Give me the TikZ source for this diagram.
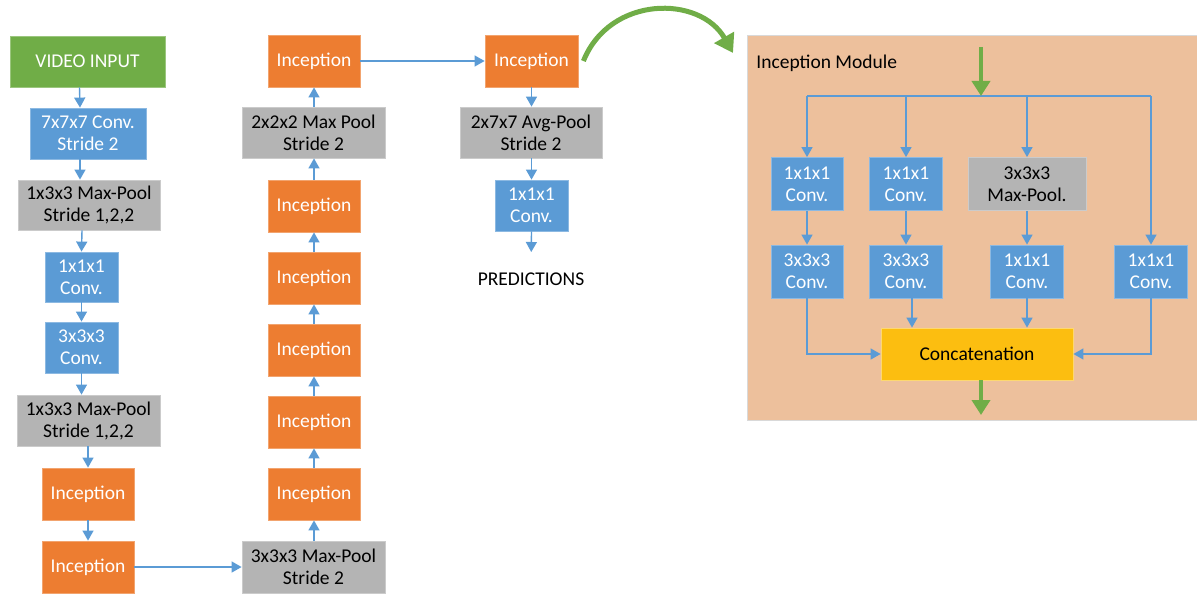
\documentclass[tikz,border=0pt]{standalone}
\usepackage{fontspec}
\setmainfont{Carlito}
\usetikzlibrary{arrows.meta,calc}

\definecolor{cblue}{RGB}{91,155,213}
\definecolor{corange}{RGB}{237,125,49}
\definecolor{cgray}{RGB}{180,180,180}
\definecolor{cgreen}{RGB}{112,173,71}
\definecolor{cpeach}{RGB}{237,192,156}
\definecolor{cyellow}{RGB}{252,190,16}

\tikzset{
  box/.style={rectangle, inner sep=0pt, align=center,
    font=\fontsize{19.5}{22}\selectfont, line width=0.8pt},
  convbox/.style={box, fill=cblue, draw=cblue!70!white, text=white},
  incbox/.style={box, fill=corange, draw=corange!70!white, text=white,
    minimum width=92pt, minimum height=52pt},
  poolbox/.style={box, fill=cgray, draw=cgray!70!white, text=black},
  inbox/.style={box, fill=cgreen, draw=cgreen!70!white, text=white},
  catbox/.style={box, fill=cyellow, draw=cyellow!60!white, text=black},
  arr/.style={draw=cblue, line width=1.4pt, -{Triangle[width=11pt,length=10pt]}},
  link/.style={draw=cblue, line width=1.4pt},
  garr/.style={draw=cgreen, line width=4pt, -{Triangle[width=18pt,length=15pt]}},
}

\begin{document}
\begin{tikzpicture}[x=1pt, y=-1pt]
\useasboundingbox (0,0) rectangle (1197,594);

% --- first column ---
\node[inbox, minimum width=155pt, minimum height=51pt] (vin) at (87.5,61.5) {VIDEO INPUT};
\node[convbox, minimum width=116pt, minimum height=51pt] (c7) at (88,133.5) {7x7x7 Conv.\\Stride 2};
\node[poolbox, minimum width=142pt, minimum height=50pt] (mp1) at (89,205) {1x3x3 Max-Pool\\Stride 1,2,2};
\node[convbox, minimum width=73pt, minimum height=50pt] (c1) at (81.5,277) {1x1x1\\Conv.};
\node[convbox, minimum width=73pt, minimum height=51pt] (c3) at (81.5,347.5) {3x3x3\\Conv.};
\node[poolbox, minimum width=143pt, minimum height=51pt] (mp2) at (88.5,420.5) {1x3x3 Max-Pool\\Stride 1,2,2};
\node[incbox] (i1) at (88,494) {Inception};
\node[incbox] (i2) at (88,567) {Inception};

% --- second column (bottom to top) ---
\node[poolbox, minimum width=143pt, minimum height=52pt] (mp3) at (313.5,567) {3x3x3 Max-Pool\\Stride 2};
\node[incbox] (i3) at (314,494) {Inception};
\node[incbox] (i4) at (314,422) {Inception};
\node[incbox] (i5) at (314,350) {Inception};
\node[incbox] (i6) at (314,278) {Inception};
\node[incbox] (i7) at (314,206) {Inception};
\node[poolbox, minimum width=143pt, minimum height=51pt] (mp4) at (313.5,132.5) {2x2x2 Max Pool\\Stride 2};
\node[incbox] (i8) at (314,61) {Inception};

% --- third column ---
\node[incbox, minimum width=93pt] (i9) at (531.5,61) {Inception};
\node[poolbox, minimum width=142pt, minimum height=51pt] (ap) at (531,132.5) {2x7x7 Avg-Pool\\Stride 2};
\node[convbox, minimum width=73pt, minimum height=51pt] (c1b) at (531.5,205.5) {1x1x1\\Conv.};
\node[box, anchor=north] (pred) at (531,272) {PREDICTIONS};

% --- connectors of the network ---
\draw[arr] ([xshift=-8pt]vin.south) -- ([xshift=-8pt]c7.north);
\draw[arr] ([xshift=-8pt]c7.south) -- ([xshift=-9pt]mp1.north);
\draw[arr] ([xshift=-7pt]mp1.south) -- (c1.north);
\draw[arr] (c1.south) -- (c3.north);
\draw[arr] (c3.south) -- ([xshift=-7pt]mp2.north);
\draw[arr] (mp2.south -| i1.north) -- (i1.north);
\draw[arr] (i1.south) -- (i2.north);
\draw[arr] (i2.east) -- (i2.east -| mp3.west);
\draw[arr] (mp3.north -| i3.south) -- (i3.south);
\draw[arr] (i3.north) -- (i4.south);
\draw[arr] (i4.north) -- (i5.south);
\draw[arr] (i5.north) -- (i6.south);
\draw[arr] (i6.north) -- (i7.south);
\draw[arr] (i7.north) -- (i7.north |- mp4.south);
\draw[arr] (mp4.north -| i8.south) -- (i8.south);
\draw[arr] (i8.east) -- (i9.west);
\draw[arr] (i9.south) -- (i9.south |- ap.north);
\draw[arr] (ap.south -| c1b.north) -- (c1b.north);
\draw[arr, shorten >=20pt] (c1b.south) -- (pred.north);

% --- panel with the inception module ---
\node[rectangle, fill=cpeach, draw=black!15, line width=0.8pt, inner sep=0pt,
  minimum width=450pt, minimum height=385pt] (panel) at (972,227.5) {};
\node[box, anchor=base west] (title) at (756,69) {Inception Module};

\node[convbox, minimum width=72pt, minimum height=53pt] (m1) at (807,184) {1x1x1\\Conv.};
\node[convbox, minimum width=73pt, minimum height=53pt] (m2) at (906,184) {1x1x1\\Conv.};
\node[poolbox, minimum width=118pt, minimum height=53pt] (m3) at (1027,184) {3x3x3\\Max-Pool.};
\node[convbox, minimum width=72pt, minimum height=53pt] (m4) at (807,271.5) {3x3x3\\Conv.};
\node[convbox, minimum width=73pt, minimum height=53pt] (m5) at (906,271.5) {3x3x3\\Conv.};
\node[convbox, minimum width=73pt, minimum height=53pt] (m6) at (1027,271.5) {1x1x1\\Conv.};
\node[convbox, minimum width=73pt, minimum height=53pt] (m7) at (1151,271.5) {1x1x1\\Conv.};
\node[catbox, minimum width=192pt, minimum height=52pt] (cat) at (977,354) {Concatenation};

\coordinate (gin) at (981,47);
\coordinate (split) at (981,96);
\coordinate (gout) at (981,415);

% input arrow and branching
\draw[link] (m1.north |- split) -- (m7.north |- split);
\draw[garr] (gin) -- (split);
\draw[arr] (m1.north |- split) -- (m1.north);
\draw[arr] (m2.north |- split) -- (m2.north);
\draw[arr] (m3.north |- split) -- (m3.north);
\draw[arr] (m7.north |- split) -- (m7.north);
\draw[arr] (m1.south) -- (m4.north);
\draw[arr] (m2.south) -- (m5.north);
\draw[arr] (m3.south) -- (m6.north);

% merging into the concatenation
\draw[arr] (m4.south) |- (cat.west);
\draw[arr] ([xshift=6pt]m5.south) -- ([xshift=6pt]m5.south |- cat.north);
\draw[arr] (m6.south) -- (m6.south |- cat.north);
\draw[arr] (m7.south) |- (cat.east);
\draw[garr] ([xshift=4pt]cat.south) -- (gout);

% curved arrow pointing to the module detail
\coordinate (gtip) at (733,53);
\draw[draw=cgreen, line width=5pt, -{Triangle[width=22pt,length=18pt]}]
  ([xshift=5pt]i9.east) .. controls (610,-5) and (700,-5) .. (gtip);
\end{tikzpicture}
\end{document}
